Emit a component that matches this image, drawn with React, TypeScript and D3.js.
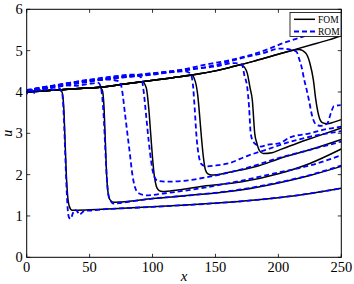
import React from 'react';
import * as d3 from 'd3';

type P = [number, number];

const xTicks = [0, 50, 100, 150, 200, 250];
const yTicks = [0, 1, 2, 3, 4, 5, 6];
const legendLabels = ['FOM', 'ROM'];

// FOM snapshots (solid black)
const fomA: P[] = [[0,4.0],[10,4.02],[20,4.04],[26,4.05],[28,4.0],[29.5,3.6],[30.5,2.8],[31.5,2.0],[32.5,1.5],[34,1.22],[36,1.14],[40,1.14],[60,1.16],[80,1.19],[100,1.22],[130,1.27],[160,1.33],[190,1.41],[220,1.52],[250,1.67]];
const fomB: P[] = [[0,4.0],[10,4.02],[20,4.04],[30,4.06],[45,4.09],[58,4.11],[60,4.05],[61.5,3.6],[62.5,2.8],[63.5,2.0],[64.5,1.6],[66,1.4],[69,1.33],[75,1.34],[100,1.42],[130,1.5],[170,1.63],[200,1.8],[225,1.98],[250,2.2]];
const fomC: P[] = [[0,4.0],[10,4.02],[20,4.04],[30,4.06],[45,4.09],[60,4.12],[75,4.18],[92,4.24],[95,4.1],[97,3.6],[98.5,3.0],[100,2.4],[101.5,1.95],[103,1.72],[105,1.62],[108,1.59],[120,1.63],[140,1.72],[170,1.82],[200,2.02],[225,2.27],[250,2.62]];
const fomD: P[] = [[0,4.0],[10,4.02],[20,4.04],[30,4.06],[45,4.09],[60,4.12],[75,4.18],[90,4.24],[105,4.3],[120,4.36],[131,4.41],[134,4.25],[136,3.9],[137.5,3.4],[139,2.85],[140.5,2.4],[142,2.12],[144,2.02],[147,1.99],[160,2.05],[170,2.11],[185,2.22],[200,2.38],[225,2.6],[250,2.85]];
const fomE: P[] = [[0,4.0],[10,4.02],[20,4.04],[30,4.06],[45,4.09],[60,4.12],[75,4.18],[90,4.24],[105,4.3],[120,4.36],[135,4.43],[150,4.51],[162,4.6],[170,4.66],[173,4.6],[175.3,4.45],[177.5,4.1],[179.3,3.8],[181.2,3.0],[183,2.75],[185,2.58],[188,2.51],[195,2.53],[201,2.6],[215,2.76],[230,2.92],[250,3.13]];
const fomF: P[] = [[0,4.0],[10,4.02],[20,4.04],[30,4.06],[45,4.09],[60,4.12],[75,4.18],[90,4.24],[105,4.3],[120,4.36],[135,4.43],[150,4.51],[165,4.62],[180,4.74],[195,4.87],[208,4.98],[216.4,5.03],[221.7,4.94],[225.1,4.69],[227.8,4.29],[229.7,3.82],[232.3,3.4],[234.9,3.26],[238.9,3.23],[244,3.27],[250,3.33]];
const fomG: P[] = [[0,4.0],[10,4.02],[20,4.04],[30,4.06],[45,4.09],[60,4.12],[75,4.18],[90,4.24],[105,4.3],[120,4.36],[135,4.43],[150,4.51],[165,4.62],[180,4.74],[195,4.87],[210,5.0],[225,5.13],[240,5.26],[250,5.36]];

// ROM snapshots (dashed blue)
const romA: P[] = [[0,3.95],[3,4.08],[6,3.98],[9,4.06],[13,4.02],[17,4.1],[21,4.05],[25,4.1],[28,4.0],[29.5,3.4],[30.5,2.6],[31.5,1.8],[32.5,1.2],[33.5,0.97],[35,0.93],[36.5,1.05],[38,1.15],[40,1.12],[42,1.03],[44,1.08],[46,1.13],[50,1.13],[60,1.16],[80,1.19],[100,1.22],[130,1.27],[160,1.33],[190,1.41],[220,1.52],[250,1.67]];
const romB: P[] = [[0,4.0],[5,4.06],[10,4.1],[20,4.12],[30,4.16],[40,4.15],[50,4.2],[57,4.22],[59,4.1],[61,3.5],[62.5,2.6],[63.5,2.0],[64.5,1.6],[66,1.4],[69,1.3],[75,1.32],[100,1.42],[130,1.5],[170,1.64],[200,1.81],[225,1.99],[250,2.22]];
const romC: P[] = [[0,4.02],[10,4.1],[20,4.15],[35,4.2],[50,4.28],[65,4.3],[74,4.25],[76,4.0],[78,3.5],[80,3.0],[82,2.5],[84,2.0],[86,1.7],[89,1.55],[95,1.5],[110,1.55],[140,1.68],[170,1.85],[200,2.05],[225,2.22],[250,2.47]];
const romD: P[] = [[0,4.05],[15,4.12],[30,4.2],[50,4.3],[70,4.38],[85,4.42],[91,4.35],[93,4.0],[95,3.4],[97,2.8],[99,2.3],[101,1.98],[104,1.85],[110,1.83],[125,1.85],[140,1.92],[170,2.12],[200,2.4],[225,2.6],[250,2.8]];
const romE: P[] = [[0,4.02],[20,4.12],[40,4.22],[60,4.3],[80,4.36],[100,4.42],[115,4.48],[126,4.5],[130,4.45],[132,4.2],[133.5,3.6],[135,2.9],[136.5,2.5],[139,2.25],[143,2.2],[150,2.22],[160,2.27],[175,2.45],[190,2.6],[210,2.8],[230,2.95],[250,3.05]];
const romF: P[] = [[0,4.0],[30,4.15],[60,4.3],[90,4.42],[120,4.52],[150,4.62],[165,4.7],[171,4.66],[173,4.4],[175.3,4.1],[176.7,3.64],[178,3.0],[180,2.8],[182.8,2.72],[186,2.68],[191,2.72],[201,2.76],[209,2.9],[225,3.0],[238,3.1],[250,3.16]];
const romG: P[] = [[0,4.0],[30,4.18],[60,4.3],[90,4.4],[120,4.5],[150,4.65],[174.8,4.85],[188,4.94],[201.3,5.05],[210,5.02],[214.5,4.97],[216.5,4.8],[218.5,4.6],[220.5,4.3],[222.5,4.05],[224.3,3.8],[227,3.4],[230.5,3.2],[234,3.18],[238.9,3.24],[241.6,3.48],[244.2,3.66],[249.5,3.68]];
const romH: P[] = [[0,4.0],[30,4.2],[60,4.32],[90,4.42],[120,4.52],[145,4.68],[161.6,4.77],[177.5,4.89],[193,5.05],[203.7,5.18],[219.6,5.34],[227.5,5.42],[250,5.6]];

const fomSeries = [fomA, fomB, fomC, fomD, fomE, fomF, fomG];
const romSeries = [romA, romB, romC, romD, romE, romF, romG, romH];

export default function App() {
  const W = 354, H = 284;
  const L = 26.7, R = 341.3, T = 9.3, B = 257.3;
  const x = d3.scaleLinear().domain([0, 250]).range([L, R]);
  const y = d3.scaleLinear().domain([0, 6]).range([B, T]);
  const line = d3.line<P>().x(d => x(d[0])).y(d => y(d[1])).curve(d3.curveMonotoneX);
  const font = '"Liberation Serif", "DejaVu Serif", serif';
  const tl = 3.5;
  return (
    <svg width={W} height={H} style={{ position: 'absolute', left: 0, top: 0, background: '#fff' }}>
      <defs>
        <clipPath id="plot"><rect x={L} y={T} width={R - L} height={B - T} /></clipPath>
      </defs>
      <rect x={0} y={0} width={W} height={H} fill="#fff" />
      <g clipPath="url(#plot)">
        {fomSeries.map((s, i) => (
          <path key={'f' + i} d={line(s) || ''} fill="none" stroke="#000" strokeWidth={1.5} />
        ))}
        {romSeries.map((s, i) => (
          <path key={'r' + i} d={line(s) || ''} fill="none" stroke="#0000ff" strokeWidth={1.8} strokeDasharray="5,3" />
        ))}
      </g>
      <rect x={L} y={T} width={R - L} height={B - T} fill="none" stroke="#000" strokeWidth={1} />
      {xTicks.map(t => (
        <g key={'x' + t}>
          <line x1={x(t)} x2={x(t)} y1={B} y2={B - tl} stroke="#000" strokeWidth={0.8} />
          <line x1={x(t)} x2={x(t)} y1={T} y2={T + tl} stroke="#000" strokeWidth={0.8} />
          <text x={x(t)} y={272} fontFamily={font} fontSize={14.5} textAnchor="middle">{t}</text>
        </g>
      ))}
      {yTicks.map(t => (
        <g key={'y' + t}>
          <line x1={L} x2={L + tl} y1={y(t)} y2={y(t)} stroke="#000" strokeWidth={0.8} />
          <line x1={R} x2={R - tl} y1={y(t)} y2={y(t)} stroke="#000" strokeWidth={0.8} />
          <text x={L - 4} y={y(t) + 5} fontFamily={font} fontSize={14.5} textAnchor="end">{t}</text>
        </g>
      ))}
      <text x={(L + R) / 2} y={281} fontFamily={font} fontSize={15} fontStyle="italic" textAnchor="middle">x</text>
      <text transform={`translate(12,${(T + B) / 2}) rotate(-90)`} fontFamily={font} fontSize={14} fontStyle="italic" textAnchor="middle">u</text>
      <g>
        <rect x={290} y={12.5} width={51} height={24} fill="#fff" stroke="#000" strokeWidth={0.8} />
        <line x1={294} x2={315} y1={19.3} y2={19.3} stroke="#000" strokeWidth={1.5} />
        <line x1={294} x2={315} y1={31.5} y2={31.5} stroke="#0000ff" strokeWidth={1.8} strokeDasharray="5,3" />
        <text x={318} y={22.5} fontFamily={font} fontSize={9.5}>{legendLabels[0]}</text>
        <text x={318} y={34.7} fontFamily={font} fontSize={9.5}>{legendLabels[1]}</text>
      </g>
    </svg>
  );
}
